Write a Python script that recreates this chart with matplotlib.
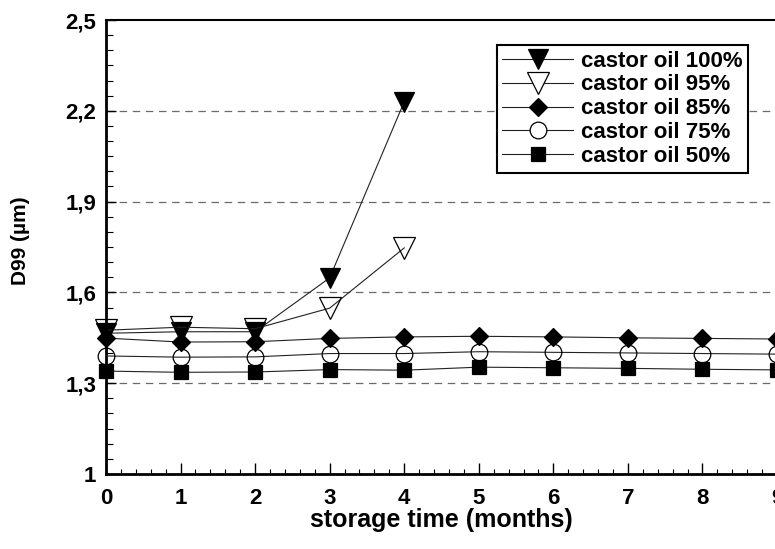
import matplotlib
matplotlib.use("Agg")
import matplotlib.pyplot as plt
from matplotlib.lines import Line2D
from matplotlib.ticker import FixedLocator, MultipleLocator, FuncFormatter

plt.rcParams["font.family"] = ["Liberation Sans", "DejaVu Sans"]
plt.rcParams["font.weight"] = "bold"

# storage time (months)
months_short = [0, 1, 2, 3, 4]
months_long = [0, 1, 2, 3, 4, 5, 6, 7, 8, 9]

# D99 (um) per castor oil content
d99_100 = [1.465, 1.47, 1.47, 1.648, 2.23]
d99_95 = [1.475, 1.485, 1.48, 1.548, 1.747]
d99_85 = [1.449, 1.436, 1.437, 1.448, 1.453, 1.455, 1.453, 1.45, 1.448, 1.446]
d99_75 = [1.39, 1.386, 1.387, 1.398, 1.398, 1.404, 1.402, 1.40, 1.398, 1.396]
d99_50 = [1.34, 1.336, 1.337, 1.345, 1.343, 1.353, 1.351, 1.349, 1.346, 1.344]

labels = ["castor oil 100%", "castor oil 95%", "castor oil 85%",
          "castor oil 75%", "castor oil 50%"]
y_major = [1.0, 1.3, 1.6, 1.9, 2.2, 2.5]

fig = plt.figure(figsize=(7.75, 5.49), dpi=100)
fig.set_facecolor("white")
ax = fig.add_axes([106 / 775, 1 - 474 / 549, 671 / 775, 454 / 549])

line_kw = dict(color="#222222", lw=0.8, mec="black", mew=0.9)
styles = [
    dict(marker="v", ms=15, mfc="black"),
    dict(marker="v", ms=15.5, mfc="none"),
    dict(marker="D", ms=8.8, mfc="black"),
    dict(marker="o", ms=12, mfc="none"),
    dict(marker="s", ms=10.5, mfc="black"),
]
series = [
    (months_short, d99_100),
    (months_short, d99_95),
    (months_long, d99_85),
    (months_long, d99_75),
    (months_long, d99_50),
]
draw_order = [1, 0, 2, 3, 4]
for i in draw_order:
    x, y = series[i]
    ax.plot(x, y, clip_on=False, zorder=3 + i, **line_kw, **styles[i])

for v in y_major[1:-1]:
    ax.axhline(v, color="#6a6a6a", lw=0.9, ls=(0, (6, 4.5)), zorder=1)

ax.set_xlim(0, 9)
ax.set_ylim(1.0, 2.5)
ax.xaxis.set_major_locator(MultipleLocator(1))
ax.xaxis.set_minor_locator(MultipleLocator(0.2))
ax.yaxis.set_major_locator(FixedLocator(y_major))
ax.yaxis.set_minor_locator(MultipleLocator(0.05))
ax.yaxis.set_major_formatter(
    FuncFormatter(lambda v, p: f"{v:g}".replace(".", ","))
)
ax.tick_params(axis="both", which="both", direction="in", labelsize=16,
               color="black")
ax.tick_params(axis="x", which="major", length=8, width=1, pad=10)
ax.tick_params(axis="x", which="minor", length=3.5, width=0.8)
ax.tick_params(axis="y", which="major", length=7, width=1, pad=7)
ax.tick_params(axis="y", which="minor", length=5, width=0.8)
for lab in ax.get_xticklabels() + ax.get_yticklabels():
    lab.set_fontweight("bold")

for side in ["left", "bottom"]:
    ax.spines[side].set_linewidth(2)
ax.spines["top"].set_linewidth(1.5)
ax.spines["right"].set_linewidth(1.5)

ax.set_xlabel("storage time (months)", fontsize=18, fontweight="bold")
ax.xaxis.set_label_coords(0.5, -0.075)
ax.set_ylabel("D99 (\u00b5m)", fontsize=15, fontweight="bold")
ax.yaxis.set_label_coords(-0.114, 0.515)

handles = []
for st in styles:
    kw = dict(st)
    if kw["mfc"] == "none":
        kw["mfc"] = "white"
    handles.append(Line2D([], [], **line_kw, **kw))
leg = ax.legend(handles, labels, loc="upper right",
                bbox_to_anchor=(0.957, 0.945),
                prop=dict(weight="bold", size=16),
                frameon=True, fancybox=False, framealpha=1,
                edgecolor="black", borderpad=0.25, labelspacing=0.13,
                handlelength=3.2, handletextpad=0.35, borderaxespad=0)
leg.get_frame().set_linewidth(1.5)
leg.set_zorder(10)

plt.savefig("out.png", dpi=100)
